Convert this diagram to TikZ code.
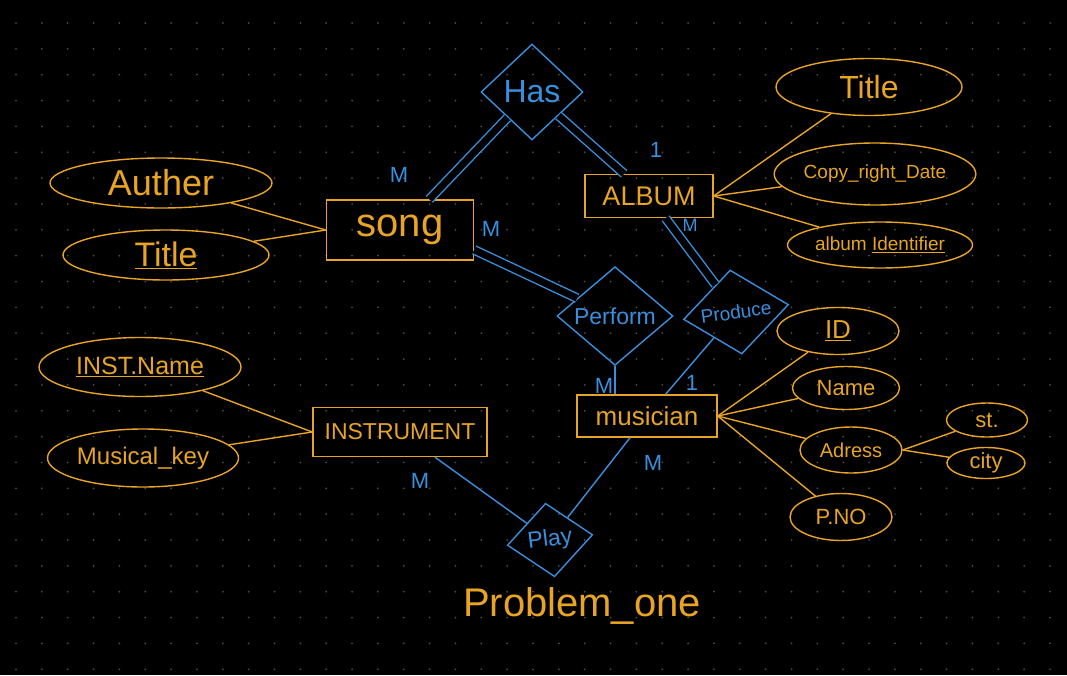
\documentclass[tikz,border=0pt]{standalone}
\usepackage{fontspec}
\setmainfont{Liberation Sans}
\usetikzlibrary{shapes.geometric}
\definecolor{org}{HTML}{E8A425}
\definecolor{blu}{HTML}{3A8FDC}
\definecolor{dotc}{HTML}{4A4A4A}
\newcommand\fsz[1]{\fontsize{#1}{#1}\selectfont}
\begin{document}
\begin{tikzpicture}[x=1pt,y=-1pt,
  ent/.style={draw=org, rectangle, line width=1.4, inner sep=0, text=org},
  rel/.style={draw=blu, diamond, line width=1.4, inner sep=0, text=blu},
  attr/.style={draw=org, ellipse, line width=1.4, inner sep=0, text=org},
  ol/.style={draw=org, line width=1.4},
  bl/.style={draw=blu, line width=1.4},
  dbl/.style={draw=blu, line width=1.4, double=black, double distance=7},
  lab/.style={text=blu, inner sep=0, font=\fsz{22}}]
\fill[black] (0,0) rectangle (1067,675);
\useasboundingbox (0,0) rectangle (1067,675);
\foreach \i in {0,...,40} \foreach \j in {0,...,25}
  \fill[dotc] (16+25.85*\i, 23+25.85*\j) circle (1);

% entities
\node[ent, minimum width=147, minimum height=60, font=\fsz{40}] (song) at (400,230) {song};
\node[ent, minimum width=128, minimum height=43, font=\fsz{27}] (album) at (649,196) {ALBUM};
\node[ent, minimum width=174, minimum height=49, font=\fsz{23}] (instrument) at (400,432) {INSTRUMENT};
\node[ent, minimum width=140, minimum height=42, font=\fsz{26}] (musician) at (647,416) {musician};

% relationships
\node[rel, minimum width=102, minimum height=96, font=\fsz{32}] (has) at (532,92) {Has};
\node[rel, minimum width=116, minimum height=90, font=\fsz{23}] (perform) at (615,316) {Perform};
\node[rel, minimum width=106, minimum height=84, font=\fsz{19}, rotate=8] (produce) at (736,312) {Produce};
\node[rel, minimum width=86, minimum height=74, font=\fsz{23}, rotate=7] (play) at (550,540) {Play};

% attributes
\node[attr, minimum width=222, minimum height=50, font=\fsz{36}] (auther) at (161,183) {Auther};
\node[attr, minimum width=206, minimum height=50, font=\fsz{34}] (stitle) at (166,255) {\underline{Title}};
\node[attr, minimum width=186, minimum height=57, font=\fsz{32}] (atitle) at (869,87) {Title};
\node[attr, minimum width=190, minimum height=62, font=\fsz{19}] (copyr) at (875,174) {Copy\_right\_Date};
\node[attr, minimum width=185, minimum height=46, font=\fsz{19}] (aid) at (880,245) {album \underline{Identifier}};
\node[attr, minimum width=122, minimum height=47, font=\fsz{26}] (id) at (838,331) {\underline{ID}};
\node[attr, minimum width=107, minimum height=43, font=\fsz{22}] (name) at (846,388) {Name};
\node[attr, minimum width=102, minimum height=46, font=\fsz{20}] (adress) at (851,450) {Adress};
\node[attr, minimum width=81, minimum height=34, font=\fsz{22}] (st) at (987,420) {st.};
\node[attr, minimum width=78, minimum height=31, font=\fsz{22}] (city) at (986,463) {city};
\node[attr, minimum width=102, minimum height=47, font=\fsz{22}] (pno) at (841,517) {P.NO};
\node[attr, minimum width=202, minimum height=59, font=\fsz{25}] (instname) at (140,367) {\underline{INST.Name}};
\node[attr, minimum width=191, minimum height=58, font=\fsz{24}] (mkey) at (143,458) {Musical\_key};

% attribute links
\draw[ol] (auther) -- (song.west);
\draw[ol] (stitle) -- (song.west);
\draw[ol] (album.east) -- (atitle);
\draw[ol] (album.east) -- (copyr);
\draw[ol] (album.east) -- (aid);
\draw[ol] (musician.east) -- (id);
\draw[ol] (musician.east) -- (name);
\draw[ol] (musician.east) -- (adress);
\draw[ol] (musician.east) -- (pno);
\draw[ol] (adress.east) -- (st);
\draw[ol] (adress.east) -- (city);
\draw[ol] (instname) -- (instrument.west);
\draw[ol] (mkey) -- (instrument.west);

% relationship links
\draw[dbl] (song) -- (has);
\draw[dbl] (has) -- (album);
\draw[dbl] (song.-15) -- (perform);
\draw[dbl] (album) -- (produce);
\draw[bl] (perform.south) -- (perform.south |- musician.north);
\draw[bl] (produce) -- (musician);
\draw[bl] (instrument) -- (play);
\draw[bl] (musician) -- (play);

% cardinalities
\node[lab] (c1) at (399,175) {M};
\node[lab] (c2) at (656,150) {1};
\node[lab] (c3) at (491,229) {M};
\node[lab, font=\fsz{18}] (c4) at (690,225) {M};
\node[lab] (c5) at (604,386) {M};
\node[lab] (c6) at (692,383) {1};
\node[lab] (c7) at (420,481) {M};
\node[lab] (c8) at (653,463) {M};

\node[text=org, font=\fsz{40}] (caption) at (582,606) {Problem\_one};
\end{tikzpicture}
\end{document}
